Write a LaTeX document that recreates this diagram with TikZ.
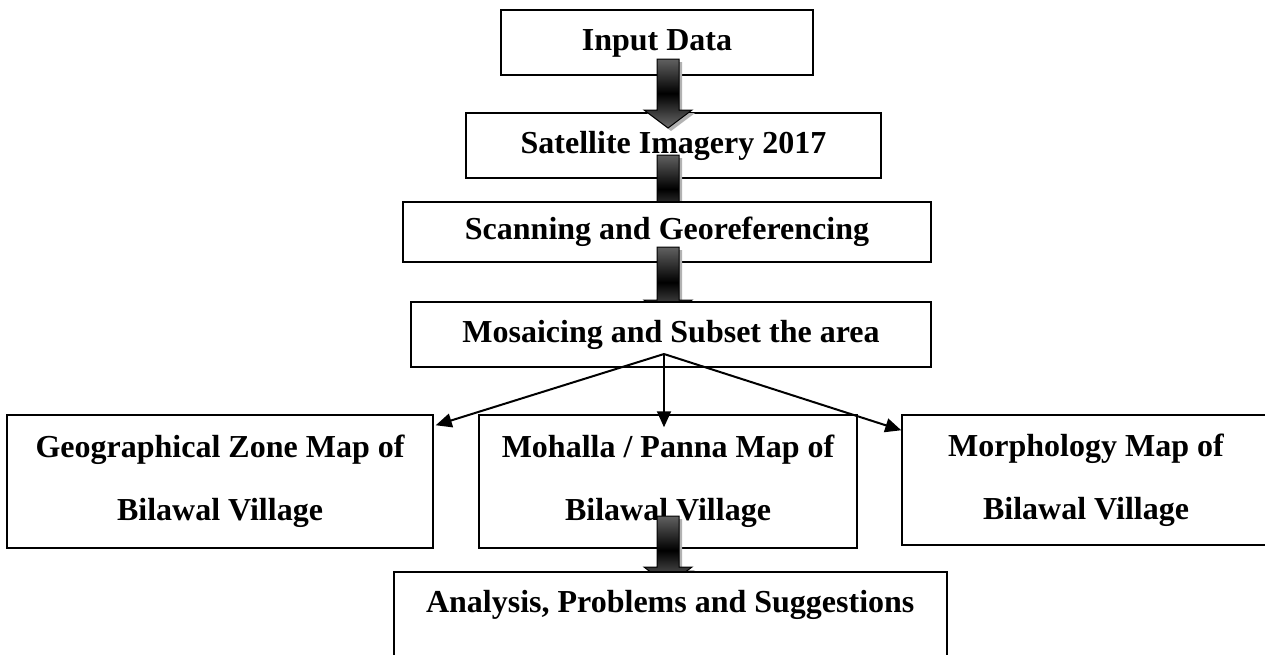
\documentclass[tikz,border=0pt]{standalone}
\usepackage{fontspec}
\setmainfont{Liberation Serif}
\usetikzlibrary{arrows.meta,calc}
\tikzset{
  box/.style={draw=black, line width=1.5pt, fill=white, inner sep=0pt, align=center,
    font=\fontsize{32}{63}\selectfont\bfseries},
  onebox/.style={box, text height=22pt, text depth=7pt},
  thinarrow/.style={line width=2pt, -{Triangle[length=16pt,width=14pt]}},
  barrow/.style={draw=black, line width=1pt, top color=black!62, bottom color=black!58, middle color=black},
  bshadow/.style={fill=black!30},
}
% #1 = x of the axis, #2 = top of the shaft, #3 = base of the head
\newcommand{\blockarrow}[3]{%
  \fill[bshadow] ({#1-11+3},{#2+3}) -- ({#1+11+3},{#2+3}) -- ({#1+11+3},{#3+3}) -- ({#1+24+3},{#3+3})
    -- ({#1+3},{#3+18+3}) -- ({#1-24+3},{#3+3}) -- ({#1-11+3},{#3+3}) -- cycle;
  \shade[barrow] ({#1-11},{#2}) -- ({#1+11},{#2}) -- ({#1+11},{#3}) -- ({#1+24},{#3})
    -- ({#1},{#3+18}) -- ({#1-24},{#3}) -- ({#1-11},{#3}) -- cycle;
}
\begin{document}
\begin{tikzpicture}[x=1pt,y=-1pt]
\fill[white] (0,0) rectangle (1265,654);
\useasboundingbox (0,0) rectangle (1265,654);

\node[onebox, minimum width=312pt, minimum height=65pt] (in) at (657,42.5) {Input Data};
\node[onebox, minimum width=415pt, minimum height=65pt] (sat) at (673.5,145.5) {Satellite Imagery 2017};
\blockarrow{668}{59}{110}
\blockarrow{668}{155}{205}
\node[onebox, minimum width=528pt, minimum height=60pt] (scan) at (667,232) {Scanning and Georeferencing};
\blockarrow{668}{247}{300}
\node[onebox, minimum width=520pt, minimum height=65pt] (mos) at (671,334.5) {Mosaicing and Subset the area};

\node[box, minimum width=426pt, minimum height=133pt] (geo) at (220,481.5) {Geographical Zone Map of\\Bilawal Village};
\node[box, minimum width=378pt, minimum height=133pt] (moh) at (668,481.5) {Mohalla / Panna Map of\\Bilawal Village};
\node[box, minimum width=368pt, minimum height=130pt] (mor) at (1086,480) {Morphology Map of\\Bilawal Village};

\coordinate (split) at (664,354);
\draw[thinarrow] (split) -- ($(geo.north east)+(2,11)$);
\draw[thinarrow] (split) -- ($(moh.north)+(-4,13)$);
\draw[thinarrow] (split) -- ($(mor.north west)+(0,16)$);

\blockarrow{668}{516}{567}
\node[box, anchor=north west, minimum width=553pt, minimum height=110pt,
  text height=22pt, text depth=50pt] (ana) at (393,571) {Analysis, Problems and Suggestions};
\end{tikzpicture}
\end{document}
